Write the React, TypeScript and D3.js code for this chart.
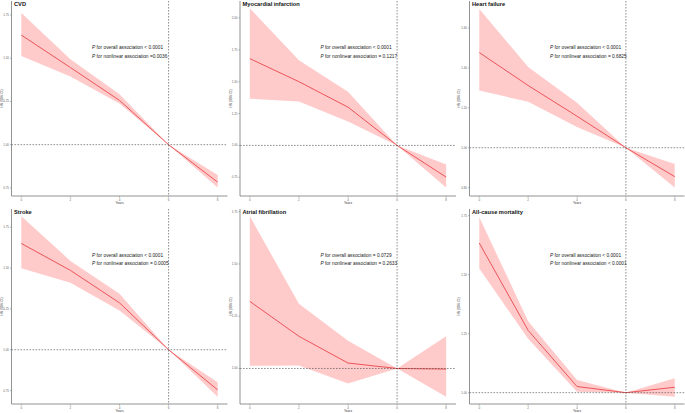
import React from "react";
import * as d3 from "d3";

const xValues = [0, 2, 4, 6, 8];
const xTickLabels = ["0", "2", "4", "6", "8"];
const refX = 6;

const titles = ["CVD", "Myocardial infarction", "Heart failure", "Stroke", "Atrial fibrillation", "All-cause mortality"];
const pOverall = ["< 0.0001", "< 0.0001", "< 0.0001", "< 0.0001", "= 0.0729", "< 0.0001"];
const pNonlinear = ["=0.0036", "= 0.1217", "= 0.6825", "= 0.0005", "= 0.2633", "< 0.0001"];

const hrCVD = [1.634, 1.446, 1.256, 1.0, 0.783];
const upCVD = [1.762, 1.494, 1.291, 1.0, 0.824];
const loCVD = [1.513, 1.394, 1.238, 1.0, 0.752];

const hrMI = [1.681, 1.5, 1.3, 1.0, 0.751];
const upMI = [2.076, 1.668, 1.421, 1.0, 0.85];
const loMI = [1.366, 1.345, 1.187, 1.0, 0.669];

const hrHF = [1.477, 1.312, 1.158, 1.0, 0.855];
const upHF = [1.695, 1.405, 1.225, 1.0, 0.919];
const loHF = [1.287, 1.23, 1.104, 1.0, 0.8];

const hrStroke = [1.651, 1.486, 1.287, 1.0, 0.754];
const upStroke = [1.817, 1.544, 1.343, 1.0, 0.8];
const loStroke = [1.499, 1.41, 1.24, 1.0, 0.712];

const hrAF = [1.321, 1.154, 1.026, 1.0, 0.997];
const upAF = [1.728, 1.31, 1.133, 1.0, 1.154];
const loAF = [1.013, 1.014, 0.928, 1.0, 0.865];

const hrAll = [1.634, 1.264, 1.026, 1.0, 1.023];
const upAll = [1.743, 1.303, 1.054, 1.0, 1.061];
const loAll = [1.526, 1.228, 1.004, 1.0, 0.983];

const hrs = [hrCVD, hrMI, hrHF, hrStroke, hrAF, hrAll];
const ups = [upCVD, upMI, upHF, upStroke, upAF, upAll];
const los = [loCVD, loMI, loHF, loStroke, loAF, loAll];

const yDomains = [
  [0.703, 1.831],
  [0.603, 2.133],
  [0.758, 1.7355],
  [0.6675, 1.862],
  [0.83, 1.763],
  [0.952, 1.778],
];
const yTicks = [
  [0.75, 1.0, 1.25, 1.5, 1.75],
  [0.75, 1.0, 1.25, 1.5, 1.75, 2.0],
  [0.8, 1.0, 1.2, 1.4, 1.6],
  [0.75, 1.0, 1.25, 1.5, 1.75],
  [1.0, 1.25, 1.5, 1.75],
  [1.0, 1.25, 1.5, 1.75],
];

const W = 685;
const H = 413;
const FONT = "Liberation Sans, Arial, sans-serif";

function Panel({ i }: { i: number }) {
  const col = i % 3;
  const row = Math.floor(i / 3);
  const left = col * 228.5;
  const axisX = left + 11.5 + (col === 2 ? 1 : 0);
  const right = left + 227.5;
  const top = row === 0 ? 1 : 209;
  const bottom = row === 0 ? 196 : 404;
  const x = d3.scaleLinear().domain([-0.4, 8.4]).range([axisX, right]);
  const y = d3.scaleLinear().domain(yDomains[i]).range([bottom, top]);
  const pts = xValues.map((v, k) => ({ x: v, hr: hrs[i][k], up: ups[i][k], lo: los[i][k] }));
  const area = d3
    .area<any>()
    .x((d) => x(d.x))
    .y0((d) => y(d.lo))
    .y1((d) => y(d.up));
  const line = d3
    .line<any>()
    .x((d) => x(d.x))
    .y((d) => y(d.hr));
  const midY = (top + bottom) / 2;
  const textX = axisX + 80.5;
  const textY = row === 0 ? 49.3 : 256.5;
  return (
    <g>
      <path d={area(pts) || ""} fill="#ffcaca" />
      <path d={line(pts) || ""} fill="none" stroke="#e8474b" strokeWidth={0.9} />
      <line x1={axisX} x2={right} y1={y(1)} y2={y(1)} stroke="#444" strokeWidth={0.6} strokeDasharray="1.6,1.4" />
      <line x1={x(refX)} x2={x(refX)} y1={top} y2={bottom} stroke="#444" strokeWidth={0.6} strokeDasharray="1.6,1.4" />
      <line x1={axisX} x2={axisX} y1={top} y2={bottom} stroke="#777" strokeWidth={0.8} />
      <line x1={axisX} x2={right} y1={bottom} y2={bottom} stroke="#777" strokeWidth={0.8} />
      {yTicks[i].map((t) => (
        <g key={t}>
          <line x1={axisX - 1.5} x2={axisX} y1={y(t)} y2={y(t)} stroke="#777" strokeWidth={0.5} />
          <text x={axisX - 2.5} y={y(t) + 1} fontSize={3} textAnchor="end" fill="#666" fontFamily={FONT}>
            {t.toFixed(2)}
          </text>
        </g>
      ))}
      {xValues.map((v, k) => (
        <g key={v}>
          <line x1={x(v)} x2={x(v)} y1={bottom} y2={bottom + 1.5} stroke="#777" strokeWidth={0.5} />
          <text x={x(v)} y={bottom + 4.5} fontSize={3} textAnchor="middle" fill="#666" fontFamily={FONT}>
            {xTickLabels[k]}
          </text>
        </g>
      ))}
      <text x={x(4)} y={bottom + 8} fontSize={3.2} textAnchor="middle" fill="#333" fontFamily={FONT}>
        Years
      </text>
      <text
        transform={`translate(${left + 3.2},${midY}) rotate(-90)`}
        fontSize={3.2}
        textAnchor="middle"
        fill="#333"
        fontFamily={FONT}
      >
        HR (95% CI)
      </text>
      <text x={axisX + 2.5} y={top + (row === 0 ? 5 : 5)} fontSize={5.7} fontWeight="bold" fill="#111" fontFamily={FONT}>
        {titles[i]}
      </text>
      <text x={textX} y={textY} fontSize={4.8} fill="#222" fontFamily={FONT}>
        <tspan fontStyle="italic">P</tspan> for overall association {pOverall[i]}
      </text>
      <text x={textX} y={textY + 8.5} fontSize={4.8} fill="#222" fontFamily={FONT}>
        <tspan fontStyle="italic">P</tspan> for nonlinear association {pNonlinear[i]}
      </text>
    </g>
  );
}

export default function App() {
  return (
    <svg
      width={W}
      height={H}
      style={{ position: "absolute", left: 0, top: 0, background: "#fff" }}
    >
      <rect width={W} height={H} fill="#fff" />
      {titles.map((_, i) => (
        <Panel key={i} i={i} />
      ))}
    </svg>
  );
}
